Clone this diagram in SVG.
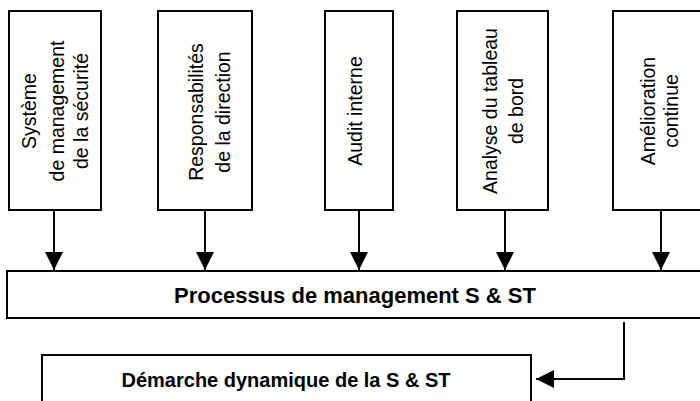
<svg xmlns="http://www.w3.org/2000/svg" width="700" height="401" viewBox="0 0 700 401">
  <style>
    .box { fill: #ffffff; stroke: #000000; stroke-width: 2; }
    .vt { font-family: "Liberation Sans", Arial, sans-serif; font-size: 19.5px; fill: #000000; text-anchor: middle; }
    .bt { font-family: "Liberation Sans", Arial, sans-serif; font-weight: bold; fill: #000000; text-anchor: middle; }
    .link { fill: none; stroke: #000000; stroke-width: 2; }
  </style>
  <defs>
    <marker id="arrow" markerUnits="userSpaceOnUse" markerWidth="18" markerHeight="18" refX="18" refY="9" orient="auto">
      <path d="M0,0 L18,9 L0,18 Z" fill="#000000"/>
    </marker>
  </defs>
  <rect width="700" height="401" fill="#ffffff"/>

  <!-- input boxes with vertical labels -->
  <g id="systeme">
    <rect class="box" x="9" y="11" width="92" height="199"/>
    <text class="vt" transform="translate(36,111) rotate(-90)">Système</text>
    <text class="vt" transform="translate(64,111) rotate(-90)">de management</text>
    <text class="vt" transform="translate(88,111) rotate(-90)">de la sécurité</text>
  </g>
  <g id="responsabilites">
    <rect class="box" x="158" y="11" width="94" height="199"/>
    <text class="vt" transform="translate(203,112) rotate(-90)">Responsabilités</text>
    <text class="vt" transform="translate(230,112) rotate(-90)">de la direction</text>
  </g>
  <g id="audit">
    <rect class="box" x="325" y="11" width="68" height="199"/>
    <text class="vt" transform="translate(362,111) rotate(-90)">Audit interne</text>
  </g>
  <g id="analyse">
    <rect class="box" x="457" y="11" width="91" height="199"/>
    <text class="vt" transform="translate(497,111) rotate(-90)">Analyse du tableau</text>
    <text class="vt" transform="translate(523,111) rotate(-90)">de bord</text>
  </g>
  <g id="amelioration">
    <rect class="box" x="613" y="11" width="92" height="199"/>
    <text class="vt" transform="translate(655,111) rotate(-90)">Amélioration</text>
    <text class="vt" transform="translate(678,111) rotate(-90)">continue</text>
  </g>

  <!-- central process bar -->
  <g id="processus">
    <rect class="box" x="7" y="271" width="697" height="47"/>
    <text class="bt" x="355" y="303" font-size="22">Processus de management S &amp; ST</text>
  </g>

  <!-- resulting approach -->
  <g id="demarche">
    <rect class="box" x="42" y="355" width="489" height="60"/>
    <text class="bt" x="286" y="387" font-size="20">Démarche dynamique de la S &amp; ST</text>
  </g>

  <!-- connectors -->
  <g id="connectors">
    <path class="link" d="M54,210 V270" marker-end="url(#arrow)"/>
    <path class="link" d="M205,210 V270" marker-end="url(#arrow)"/>
    <path class="link" d="M359,210 V270" marker-end="url(#arrow)"/>
    <path class="link" d="M505,210 V270" marker-end="url(#arrow)"/>
    <path class="link" d="M661,210 V270" marker-end="url(#arrow)"/>
    <path class="link" d="M624,322 V379 H536" marker-end="url(#arrow)"/>
  </g>
</svg>
